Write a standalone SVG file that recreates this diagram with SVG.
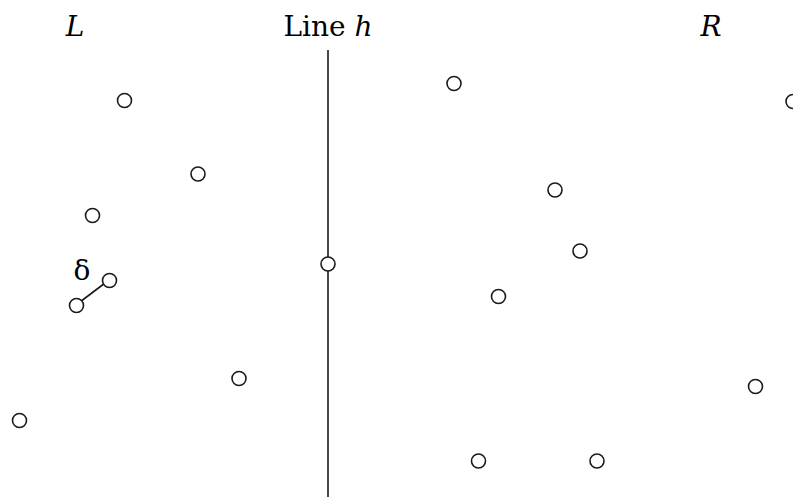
<svg xmlns="http://www.w3.org/2000/svg" width="793" height="497" viewBox="0 0 793 497">
<style>
.pt{fill:#fff;stroke:#1a1a1a;stroke-width:1.6}
.ln{stroke:#1a1a1a;stroke-width:1.6;fill:none}
.t{font-family:"DejaVu Serif","Liberation Serif",serif;font-size:28px;fill:#000;text-anchor:middle}
.i{font-style:italic}
</style>
<rect width="793" height="497" fill="#fff"/>
<g id="labels">
<text class="t i" x="75" y="36">L</text>
<text class="t" x="328" y="36">Line <tspan class="i">h</tspan></text>
<text class="t i" x="711" y="36">R</text>
<text class="t" x="82" y="280">δ</text>
</g>
<g id="connectors">
<line class="ln" x1="328" y1="50" x2="328" y2="497"/>
<line class="ln" x1="76" y1="305" x2="109" y2="280"/>
</g>
<g id="p1"><circle class="pt" cx="124.5" cy="100.5" r="7"/></g>
<g id="p2"><circle class="pt" cx="198" cy="174" r="7"/></g>
<g id="p3"><circle class="pt" cx="92.5" cy="215.5" r="7"/></g>
<g id="p4"><circle class="pt" cx="109.5" cy="280.5" r="7"/></g>
<g id="p5"><circle class="pt" cx="76.5" cy="305.5" r="7"/></g>
<g id="p6"><circle class="pt" cx="19.5" cy="420.5" r="7"/></g>
<g id="p7"><circle class="pt" cx="239" cy="378.5" r="7"/></g>
<g id="p8"><circle class="pt" cx="328" cy="264" r="7"/></g>
<g id="p9"><circle class="pt" cx="454" cy="83.5" r="7"/></g>
<g id="p10"><circle class="pt" cx="555" cy="190" r="7"/></g>
<g id="p11"><circle class="pt" cx="580" cy="251" r="7"/></g>
<g id="p12"><circle class="pt" cx="498.5" cy="296.5" r="7"/></g>
<g id="p13"><circle class="pt" cx="478.5" cy="461" r="7"/></g>
<g id="p14"><circle class="pt" cx="597" cy="461" r="7"/></g>
<g id="p15"><circle class="pt" cx="755.5" cy="386.5" r="7"/></g>
<g id="p16"><circle class="pt" cx="793" cy="101.5" r="7"/></g>
</svg>
